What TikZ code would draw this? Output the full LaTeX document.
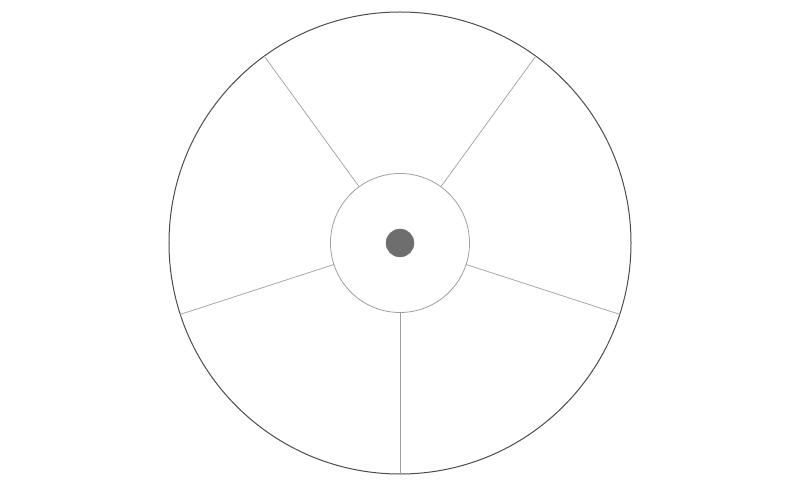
\documentclass[tikz,border=0pt]{standalone}
\begin{document}
\begin{tikzpicture}[x=1bp,y=-1bp,
  ring/.style={circle, draw, inner sep=0pt, outer sep=0pt},
  spoke/.style={draw=gray!75, line width=0.7bp}]
\useasboundingbox (0,0) rectangle (800,487);
\fill[white] (0,0) rectangle (800,487);
\node[ring, draw=black!70, line width=1bp, minimum size=462bp] (outer) at (400,243) {};
\node[ring, draw=gray!75, line width=0.8bp, minimum size=139bp] (inner) at (400,243) {};
\node[ring, draw=black!55, fill=black!57, minimum size=28bp] (dot) at (400,243) {};
\foreach \a in {54,126,198,270,342}
  \draw[spoke] (inner.\a) -- (outer.\a);
\end{tikzpicture}
\end{document}
